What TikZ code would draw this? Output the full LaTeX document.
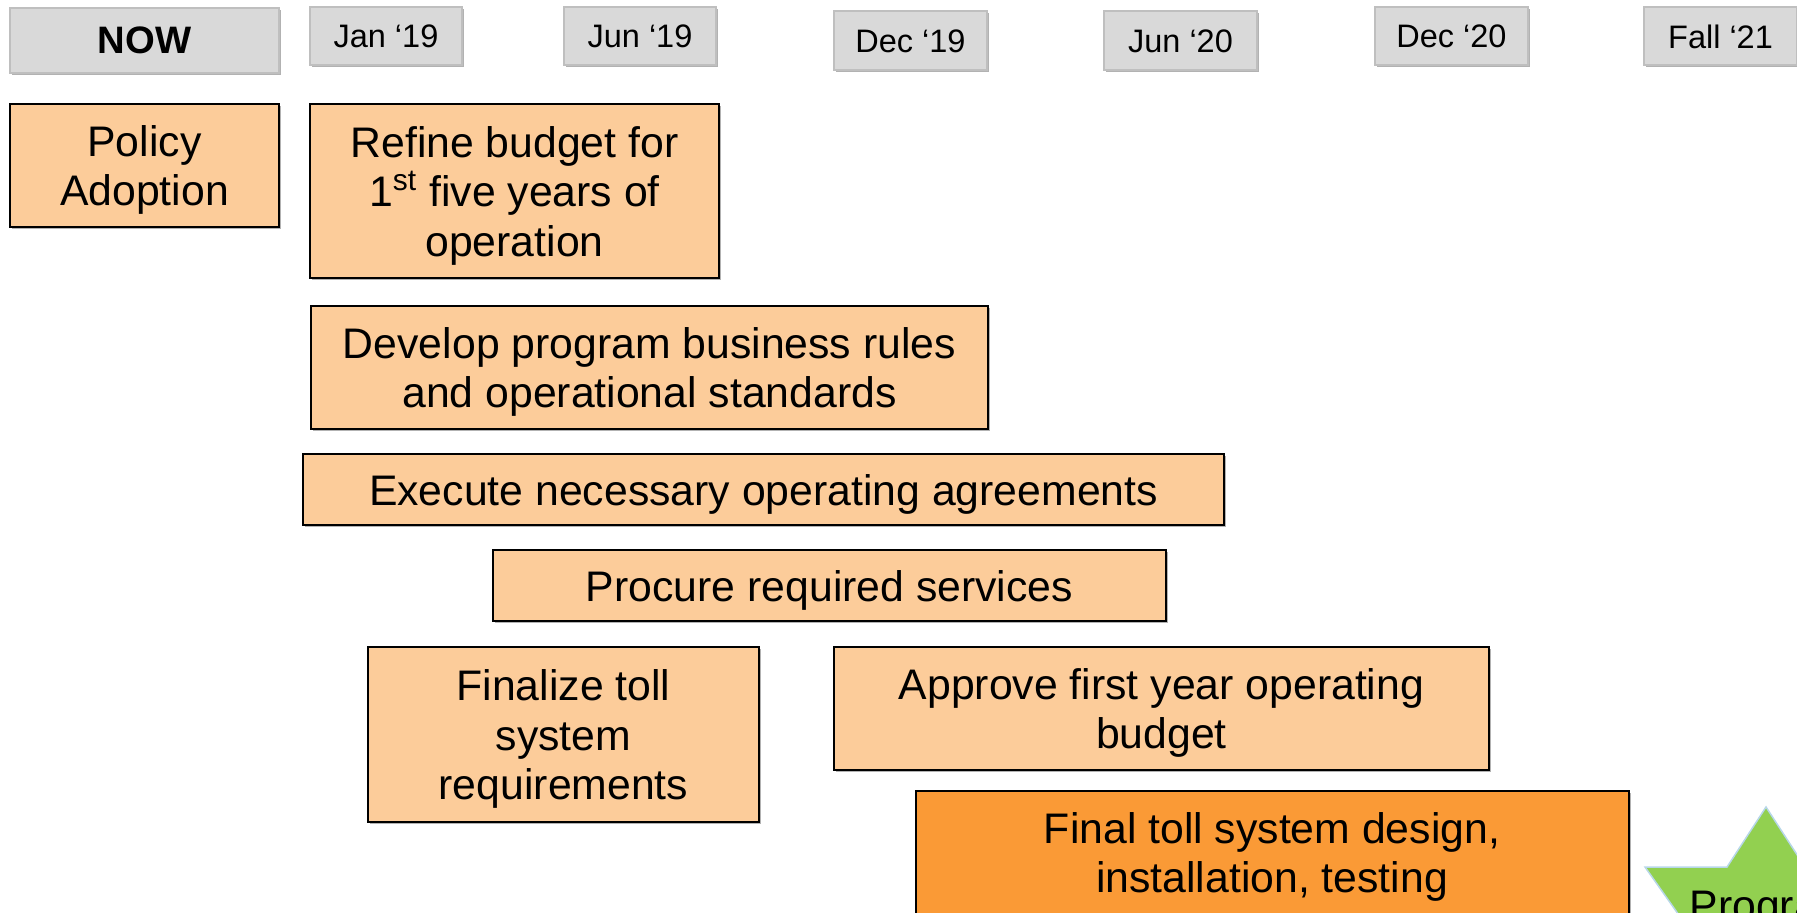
\documentclass[tikz,border=0pt]{standalone}
\usepackage{fontspec}
\setmainfont{Liberation Sans}
\usetikzlibrary{shadows}

\definecolor{peach}{HTML}{FCCC9A}
\definecolor{deeporange}{HTML}{FA9A36}
\definecolor{hdrgray}{HTML}{D9D9D9}
\definecolor{hdrline}{HTML}{BFBFBF}
\definecolor{stargreen}{HTML}{92D050}
\definecolor{starline}{HTML}{B7D7E8}

% one drawing unit
\newlength\pxu
\setlength\pxu{0.4pt}
% taller first line, so the text block sits a little lower in its box
\newcommand\lowertext{\rule{0pt}{16pt}}

\begin{document}
\begin{tikzpicture}[x=0.4pt, y=-0.4pt,
  softshadow/.style={drop shadow={shadow xshift=0.7pt, shadow yshift=-0.7pt, opacity=0.3, fill=black}},
  box/.style 2 args={minimum width=#1\pxu, minimum height=#2\pxu},
  hdr/.style={draw=hdrline, line width=0.8pt, fill=hdrgray, inner sep=0pt,
    softshadow, font=\fontsize{13}{15}\selectfont},
  task/.style={draw=black, line width=0.8pt, fill=peach, inner sep=0pt,
    align=center, softshadow, font=\fontsize{17.1}{19.8}\selectfont},
  bodytext/.style={align=center, inner sep=0pt, font=\fontsize{17.1}{19.8}\selectfont}]

\useasboundingbox (0,0) rectangle (1797,912);
\clip (0,0) rectangle (1797,912);

% timeline header
\node[hdr, box={269}{65}, font=\fontsize{15.3}{17}\selectfont\bfseries] (now) at (144.5,40.5) {NOW};
\node[hdr, box={152}{58}] (jan19)  at (386,36.5)     {Jan ‘19};
\node[hdr, box={152}{58}] (jun19)  at (640,36.5)     {Jun ‘19};
\node[hdr, box={153}{59}] (dec19)  at (910.5,41) {Dec ‘19};
\node[hdr, box={153}{59}] (jun20)  at (1180.5,41){Jun ‘20};
\node[hdr, box={153}{58}] (dec20)  at (1451.5,36.5)  {Dec ‘20};
\node[hdr, box={153}{58}] (fall21) at (1720.5,36.5)  {Fall ‘21};

% activities
\node[task, box={269}{123}] (policy) at (144.5,165.5) {\lowertext Policy\\Adoption};
\node[task, box={409}{174}] (refine) at (514.5,191)
  {\lowertext Refine budget for\\1\textsuperscript{st} five years of\\operation};
\node[task, box={677}{123}] (develop) at (649.5,367.5)
  {\lowertext Develop program business rules\\and operational standards};
\node[task, box={921}{71}] (execute) at (763.5,489.5)
  {\lowertext Execute necessary operating agreements};
\node[task, box={673}{71}] (procure) at (829.5,585.5) {\lowertext Procure required services};
\node[task, box={391}{175}] (finalize) at (563.5,734.5)
  {\lowertext Finalize toll\\system\\requirements};
\node[task, box={655}{123}] (approve) at (1161.5,708.5)
  {\lowertext Approve first year operating\\budget};
\node[task, box={713}{209}, fill=deeporange] (final) at (1272.5,895.5) {};
\node[bodytext] (finaltext) at (1272,857)
  {Final toll system design,\\installation, testing};

% launch star
\coordinate (st-top) at (1766,807);
\coordinate (st-ui)  at (1727,867);
\coordinate (st-lt)  at (1645,867);
\coordinate (st-li)  at (1700,945);
\coordinate (st-lb)  at (1690,1010);
\coordinate (st-bi)  at (1766,975);
\coordinate (st-rb)  at (1842,1010);
\coordinate (st-ri)  at (1832,945);
\coordinate (st-rt)  at (1887,867);
\coordinate (st-ur)  at (1805,867);
\fill[black, opacity=0.18, xshift=-1.5pt, yshift=-1.5pt]
  (st-top) -- (st-ui) -- (st-lt) -- (st-li) -- (st-lb) -- (st-bi)
  -- (st-rb) -- (st-ri) -- (st-rt) -- (st-ur) -- cycle;
\draw[starline, line width=0.6pt, fill=stargreen]
  (st-top) -- (st-ui) -- (st-lt) -- (st-li) -- (st-lb) -- (st-bi)
  -- (st-rb) -- (st-ri) -- (st-rt) -- (st-ur) -- cycle;
\node[bodytext, anchor=base west] (launch) at (1689,920) {Program};

\end{tikzpicture}
\end{document}
